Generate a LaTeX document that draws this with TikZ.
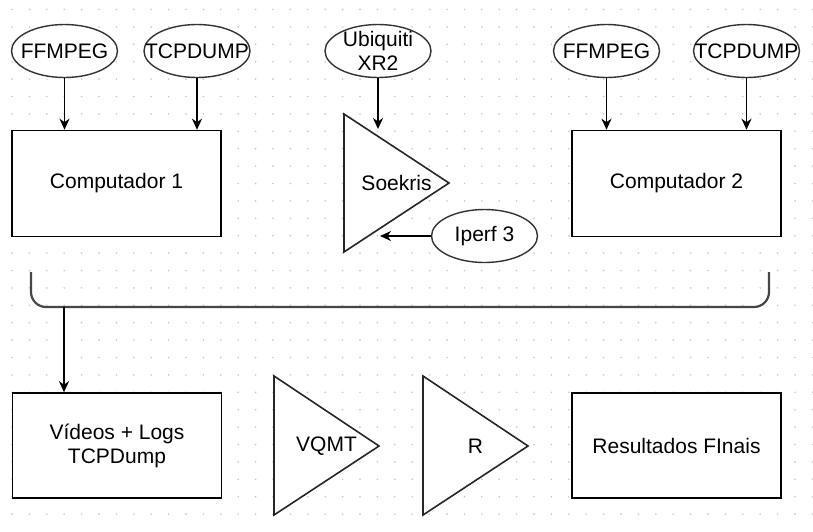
\documentclass[tikz,border=0pt]{standalone}
\usepackage{fontspec}
\setmainfont{Liberation Sans}
\usetikzlibrary{arrows.meta}
\usetikzlibrary{shapes.geometric}

\definecolor{gridgray}{RGB}{200,200,200}
\definecolor{bracegray}{RGB}{70,70,70}

\begin{document}
\begin{tikzpicture}[x=1pt, y=-1pt,
        box/.style={draw=black, line width=1.6pt, fill=white, minimum width=209pt, minimum height=106pt, inner sep=0pt, align=center},
        ell/.style={draw=black!80, line width=1.4pt, fill=white, ellipse, minimum width=106pt, minimum height=53pt, inner sep=0pt},
        tri/.style={draw=black!85, line width=1.6pt, fill=white, line join=miter},
        arr/.style={line width=1.8pt, -{Stealth[length=11pt, width=10pt, inset=3.5pt]}},
        font=\fontsize{21}{24}\selectfont]

            \fill[white] (0,0) rectangle (813,531);
            \useasboundingbox (0,0) rectangle (813,531);

            % Draw the grid
            \foreach \i in {0,...,46}
                \foreach \j in {0,...,29}
                    \fill[gridgray] (12+17.4*\i, 9.5+17.4*\j) circle (0.9);

            % Draw computer 1
            \node[ell, label=center:FFMPEG] (ffA) at (64.5,51) {};
            \node[ell, label=center:TCPDUMP] (tcpA) at (197,51) {};
            \node[box] (comp1) at (116.5,183.5) {Computador 1};
            \draw[arr] (ffA) -- (ffA |- comp1.north);
            \draw[arr] (tcpA) -- (tcpA |- comp1.north);

            % Draw the Soekris
            \draw[tri] (344,114) -- (449,183) -- (344,252) -- cycle;
            \node (soekris) at (396.5,183) {Soekris};
            \node[ell, label={[align=center]center:Ubiquiti\\XR2}] (ubnt) at (378,51) {};
            \coordinate (soekrisTop) at (378,129);
            \draw[arr] (ubnt) -- (soekrisTop);
            \node[ell, label=center:Iperf 3] (iperf) at (484.5,236) {};
            \coordinate (soekrisSide) at (380,236);
            \draw[arr] (iperf) -- (soekrisSide);

            % Draw computer 2
            \node[ell, label=center:FFMPEG] (ffB) at (606.5,51) {};
            \node[ell, label=center:TCPDUMP] (tcpB) at (746.5,51) {};
            \node[box] (comp2) at (676.5,183.5) {Computador 2};
            \draw[arr] (ffB) -- (ffB |- comp2.north);
            \draw[arr] (tcpB) -- (tcpB |- comp2.north);

            % Draw the brace
            \draw[draw=bracegray, line width=2.2pt, rounded corners=15pt] (31,272) -- (31,307) -- (769,307) -- (769,272);
            \coordinate (braceOut) at (64,307);

            % Draw the bottom row
            \node[box, minimum height=105pt] (vids) at (117,445.5) {Vídeos + Logs\\TCPDump};
            \draw[arr] (braceOut) -- (braceOut |- vids.north);
            \draw[tri] (274,376) -- (379,446) -- (274,515) -- cycle;
            \node (vqmt) at (326.5,446) {VQMT};
            \draw[tri] (423,376) -- (528,446) -- (423,515) -- cycle;
            \node (rtool) at (475.5,446) {R};
            \node[box, minimum height=105pt] (res) at (676.5,445.5) {Resultados FInais};

\end{tikzpicture}
\end{document}
